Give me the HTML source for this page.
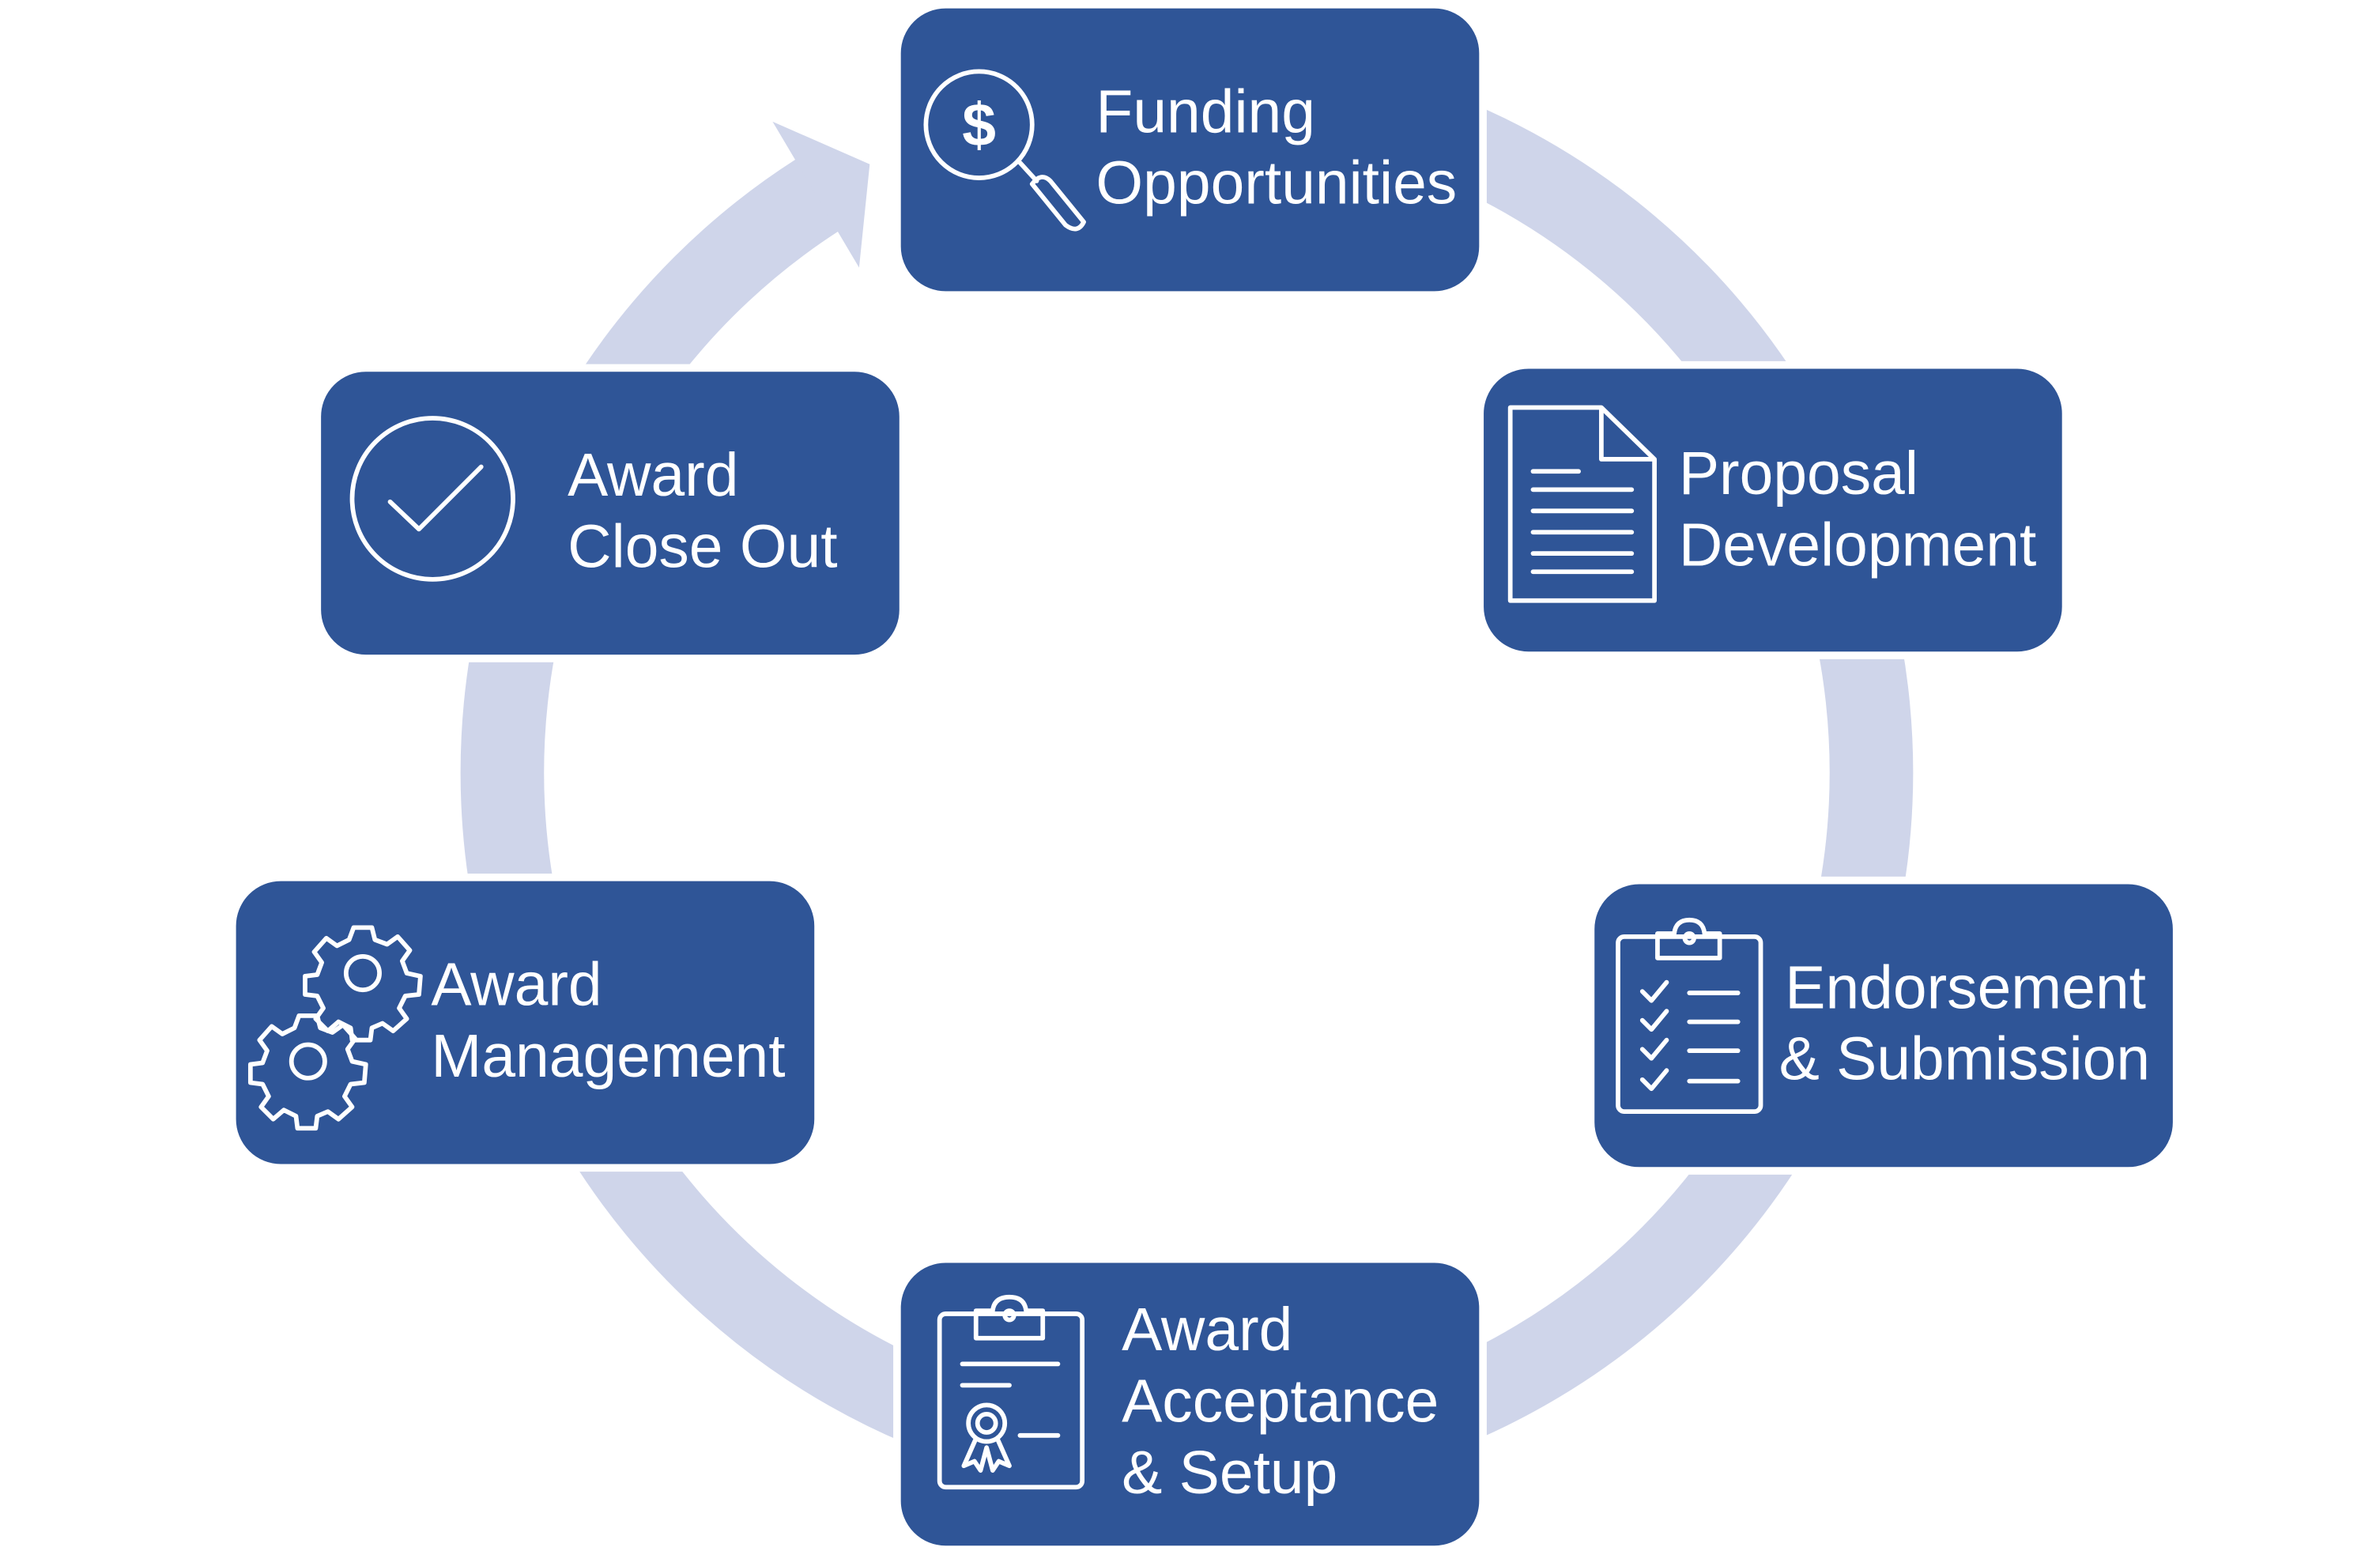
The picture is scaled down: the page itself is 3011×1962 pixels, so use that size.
<!DOCTYPE html>
<html><head><meta charset="utf-8"><style>
html,body{margin:0;padding:0;background:#fff;}
svg{display:block;}
text{font-family:"Liberation Sans",sans-serif;fill:#fff;font-size:40px;}
</style></head><body>
<svg width="3011" height="1962" viewBox="0 0 1568 1020" preserveAspectRatio="none" xmlns="http://www.w3.org/2000/svg">
<path d="M 539 128 A 451 451 0 1 0 784 57" fill="none" stroke="#CFD5EA" stroke-width="55"/>
<polygon points="509,80 573,108 566,176" fill="#CFD5EA"/>
<g fill="#2F5597" stroke="#fff" stroke-width="5">
<rect x="591" y="3" width="386" height="191" rx="32"/>
<rect x="975" y="240" width="386" height="191" rx="32"/>
<rect x="1048" y="579" width="386" height="191" rx="32"/>
<rect x="591" y="828" width="386" height="191" rx="32"/>
<rect x="153" y="577" width="386" height="191" rx="32"/>
<rect x="209" y="242" width="386" height="191" rx="32"/>
</g>
<text x="722" y="87">Funding</text><text x="722" y="134">Opportunities</text>
<text x="1106" y="325">Proposal</text><text x="1106" y="372">Development</text>
<text x="1176" y="663">Endorsement</text><text x="1172" y="710">&amp; Submission</text>
<text x="739" y="888">Award</text><text x="739" y="935">Acceptance</text><text x="739" y="982">&amp; Setup</text>
<text x="284" y="661">Award</text><text x="284" y="708">Management</text>
<text x="374" y="326">Award</text><text x="374" y="373">Close Out</text>
<g fill="none" stroke="#fff" stroke-width="3" stroke-linecap="round" stroke-linejoin="round">
<ellipse cx="645" cy="82" rx="35" ry="35"/>
<path d="M672 107 L683 119 M680 121 L702 148 Q710 154 714 146 L692 119 Q686 113 680 121 Z"/>
<path d="M995 268 L1055 268 L1090 302 L1090 395 L995 395 Z M1055 268 L1055 302 L1090 302"/>
<path d="M1010 310 H1040 M1010 322 H1075 M1010 336 H1075 M1010 350 H1075 M1010 364 H1075 M1010 376 H1075"/>
<rect x="1066" y="616" width="94" height="115" rx="4"/>
<path d="M1092 630 V614 H1103 Q1104 605 1113 605 Q1122 605 1123 614 H1133 V630 Z"/>
<circle cx="1113" cy="617" r="3"/>
<path d="M1082 652 l6 6 l10 -12 M1082 671 l6 6 l10 -12 M1082 690 l6 6 l10 -12 M1082 710 l6 6 l10 -12"/>
<path d="M1113 653 H1145 M1113 672 H1145 M1113 691 H1145 M1113 711 H1145"/>
<rect x="619" y="864" width="94" height="114" rx="4"/>
<path d="M643 880 V862 H654 Q655 853 665 853 Q675 853 676 862 H687 V880 Z"/>
<circle cx="665" cy="865" r="3"/>
<path d="M634 897 H697 M634 911 H665 M672 944 H697"/>
<circle cx="650" cy="936" r="12"/><circle cx="650" cy="936" r="6"/>
<path d="M643 946 L635 964 L642 961 L646 967 L650 952 L654 967 L658 961 L665 964 L657 946"/>
<circle cx="239" cy="640" r="11"/>
<circle cx="203" cy="698" r="11"/>
<circle cx="285" cy="328" r="53"/>
<path d="M257 330 L276 348 L317 307"/>
</g>
<g fill="none" stroke="#fff" stroke-width="3" stroke-linejoin="round">
<path d="M233 610 L245 610 L247 618 L255 621 L262 616 L270 625 L265 632 L268 640 L277 642 L276 654 L267 655 L263 663 L268 670 L259 678 L252 673 L245 676 L244 684 L232 684 L231 676 L223 672 L216 678 L208 670 L213 663 L209 655 L201 654 L201 642 L209 641 L212 633 L207 626 L215 617 L222 622 L230 618 Z"/>
<path d="M197 668 L209 668 L211 676 L219 679 L226 674 L234 683 L229 690 L232 698 L241 700 L240 712 L231 713 L227 721 L232 728 L223 736 L216 731 L209 734 L208 742 L196 742 L195 734 L187 730 L180 736 L172 728 L177 721 L173 713 L165 712 L165 700 L173 699 L176 691 L171 684 L179 675 L186 680 L194 676 Z"/>
</g>
<text x="645" y="96" text-anchor="middle" style="font-size:40px;font-weight:bold">$</text>
</svg>
</body></html>
